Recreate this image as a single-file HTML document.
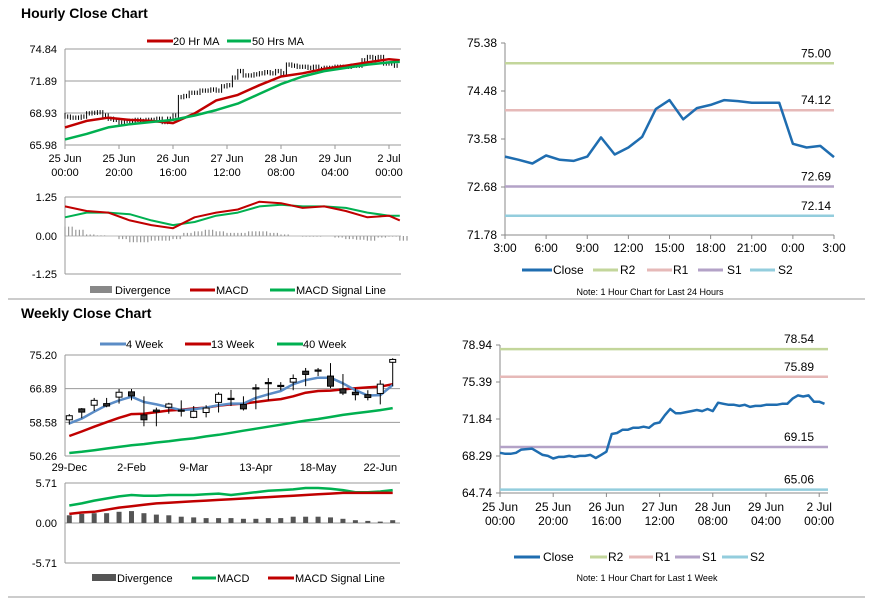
<!DOCTYPE html>
<html><head><meta charset="utf-8"><style>
body{margin:0;background:#fff;}
svg{display:block;font-family:"Liberation Sans",Arial,sans-serif;}
</style></head><body>
<svg id="s" width="873" height="601" viewBox="0 0 873 601" xmlns="http://www.w3.org/2000/svg">
<line x1="8" y1="299" x2="865" y2="299" stroke="#999"/>
<line x1="8" y1="597" x2="865" y2="597" stroke="#999"/>
<text x="21" y="18" font-size="14" font-weight="bold">Hourly Close Chart</text>
<text x="21" y="318" font-size="14" font-weight="bold">Weekly Close Chart</text>
<g id="g"></g>
</svg>
<script>
// ===== data =====
const hrIdx = [0,2,4,6,8,10,12,14,16,18,20,22,24,26,28,30,32,34,36,38,40,42,44,46,48,50,52,54,56,58,60,62,64,66,68,70,72,74,76,78,80,82,84,86,88,90,92,94,96,98,100,102,104,106,108,110,112,114,116,118,120,122];
const hrClose = [68.6,68.5,68.5,68.6,68.9,68.95,69.0,68.7,68.4,68.3,68.05,68.2,68.2,68.3,68.2,68.3,68.3,68.4,68.1,68.4,68.7,70.4,70.5,70.8,70.8,71.0,71.0,71.1,71.0,71.4,71.5,72.2,72.8,72.4,72.4,72.5,72.6,72.7,72.6,72.8,72.6,73.4,73.3,73.2,73.2,73.1,73.2,73.0,73.1,73.1,73.2,73.2,73.2,73.3,73.3,73.8,74.1,74.0,74.1,73.5,73.5,73.3];
const maIdx = [0,8,16,24,32,40,48,56,64,72,80,88,96,104,112,120,124];
const ma20 = [67.6,68.2,68.5,68.3,68.2,68.0,68.9,70.1,70.6,71.5,72.3,72.6,73.0,73.3,73.6,73.9,73.8];
const ma50 = [66.5,67.0,67.6,67.9,68.1,68.3,68.7,69.2,69.8,70.7,71.6,72.3,72.8,73.1,73.4,73.6,73.65];
const hMacd = [0.95,0.8,0.75,0.5,0.35,0.25,0.6,0.75,0.85,1.1,1.05,0.9,0.95,0.8,0.6,0.65,0.5];
const hSignal = [0.6,0.75,0.75,0.7,0.5,0.35,0.45,0.65,0.75,0.95,1.0,0.95,0.95,0.9,0.75,0.65,0.65];
const divIdx = [0,4,8,12,16,20,24,28,32,36,40,44,48,52,56,60,64,68,72,76,80,84,88,92,96,100,104,108,112,116,120,124];
const hDiv = [0.3,0.2,0.05,0.02,0,-0.1,-0.2,-0.2,-0.15,-0.15,-0.1,0.1,0.15,0.2,0.15,0.1,0.1,0.15,0.15,0.1,0.05,0,-0.02,-0.02,0,-0.05,-0.1,-0.12,-0.15,-0.05,-0.02,-0.15];
const hrTicks = [['25 Jun','00:00'],['25 Jun','20:00'],['26 Jun','16:00'],['27 Jun','12:00'],['28 Jun','08:00'],['29 Jun','04:00'],['2 Jul','00:00']];
const c1Ticks = ['74.84','71.89','68.93','65.98'];
const m1Ticks = ['1.25','0.00','-1.25'];

const wOpen  = [59.2,61.9,62.8,63.2,64.8,66.1,60.4,61.6,62.3,61.6,59.8,61.0,63.5,64.5,63.0,67.1,68.4,67.7,68.5,71.2,71.5,70.0,66.8,66.0,65.4,65.7,73.4];
const wClose = [60.2,61.1,64.0,62.6,66.0,65.1,59.2,61.2,63.1,61.5,61.3,62.1,65.5,64.4,61.9,66.9,68.3,67.6,69.4,70.4,71.2,67.5,65.8,65.4,64.7,68.0,74.1];
const wHigh  = [60.6,62.1,64.6,64.6,66.8,66.8,65.0,62.2,63.4,64.0,62.6,62.8,66.0,66.6,65.0,68.0,69.5,68.5,70.4,72.0,72.0,73.2,70.5,67.0,66.5,69.0,74.4];
const wLow   = [58.0,59.6,61.4,62.3,63.2,64.0,57.6,57.6,60.7,60.0,59.6,59.8,61.0,62.6,61.5,61.8,64.0,66.5,66.5,67.5,70.0,67.0,65.3,64.0,64.0,63.0,67.5];
const w4 = [58.3,59.5,61.2,62.8,64.0,64.9,63.6,63.0,62.3,61.6,61.8,62.2,62.8,63.2,63.2,64.6,65.5,66.3,68.0,69.0,69.6,69.6,68.2,66.5,65.2,65.3,67.8];
const w13 = [55.2,56.3,57.5,58.6,59.7,60.6,60.7,61.1,61.5,61.7,62.0,62.2,62.7,63.0,63.2,63.6,64.0,64.3,65.0,65.9,66.3,66.4,66.7,67.0,67.2,67.4,68.0];
const w40 = [51.0,51.3,51.7,52.1,52.5,52.9,53.2,53.6,53.9,54.3,54.6,55.1,55.5,56.0,56.5,57.0,57.5,58.0,58.5,59.0,59.4,59.9,60.4,60.8,61.2,61.6,62.1];
const wMacd = [2.5,2.8,3.2,3.5,3.8,4.0,3.9,3.9,4.0,4.0,4.0,4.1,4.2,4.0,4.2,4.4,4.6,4.7,4.8,5.0,5.0,4.9,4.7,4.4,4.4,4.5,4.7];
const wSignal = [1.3,1.5,1.6,1.9,2.2,2.4,2.6,2.8,2.9,3.0,3.1,3.2,3.3,3.4,3.5,3.6,3.7,3.8,3.9,4.0,4.1,4.2,4.3,4.3,4.3,4.3,4.3];
const wDiv = [1.1,1.3,1.4,1.4,1.6,1.7,1.4,1.2,1.1,0.9,0.8,0.7,0.7,0.7,0.6,0.6,0.7,0.7,0.9,0.9,0.9,0.8,0.6,0.4,0.3,0.2,0.4];
const wkLabels = ['29-Dec','2-Feb','9-Mar','13-Apr','18-May','22-Jun'];
const wkLabelIdx = [0,5,10,15,20,25];
const w1Ticks = ['75.20','66.89','58.58','50.26'];
const wmTicks = ['5.71','0.00','-5.71'];
const dayClose = [73.25,73.19,73.12,73.27,73.19,73.17,73.25,73.61,73.29,73.42,73.62,74.14,74.31,73.95,74.16,74.22,74.31,74.29,74.26,74.26,74.26,73.49,73.42,73.45,73.24];
const dayTicks = ['3:00','6:00','9:00','12:00','15:00','18:00','21:00','0:00','3:00'];
const dayYTicks = ['75.38','74.48','73.58','72.68','71.78'];
const dayLevels = [75.00,74.12,72.69,72.14];
const weekLevels = [78.54,75.89,69.15,65.06];
const weekYTicks = ['78.94','75.39','71.84','68.29','64.74'];
const levelNames = ['R2','R1','S1','S2'];
const levelColors = ['#c3d69b','#e6b9b8','#b3a2c7','#93cddd'];

const NS='http://www.w3.org/2000/svg';
const G=document.getElementById('g');
function mk(tag,attrs,parent){const e=document.createElementNS(NS,tag);for(const k in attrs)e.setAttribute(k,attrs[k]);(parent||G).appendChild(e);return e;}
function txt(x,y,s,size,anchor,parent){const t=mk('text',{x:x,y:y,'font-size':size||11,'text-anchor':anchor||'start',fill:'#000'},parent);t.textContent=s;return t;}
function lin(a,b){return v=>a[1]+(v-a[0])*(b[1]-a[1])/(b[0]-a[0]);}
function poly(xs,ys,color,w,parent){let d='';for(let i=0;i<xs.length;i++)d+=(i?'L':'M')+xs[i].toFixed(1)+' '+ys[i].toFixed(1);return mk('path',{d:d,fill:'none',stroke:color,'stroke-width':w,'stroke-linejoin':'round'},parent);}
const RED='#c00000',GRN='#00b050',BLU='#5b8cc6',CLOSE='#1f6db0';

// ===== Chart 1: hourly candles =====
{
const g=mk('g',{});


const x=lin([0,65],[20,119]), y=lin([65.98,145],[74.84,49]);
c1Ticks.forEach((t,i)=>{const yy=49+i*32;mk('line',{x1:65,y1:yy,x2:401,y2:yy,stroke:'#999'},g);const l=txt(57,yy+4,t,11,'end',g);});
mk('line',{x1:65,y1:49,x2:65,y2:145,stroke:'#999'},g);
hrTicks.forEach((t,i)=>{const xx=x(i*20);mk('line',{x1:xx,y1:145,x2:xx,y2:149,stroke:'#999'},g);const a=txt(xx,162,t[0],11,'middle',g);txt(xx,176,t[1],11,'middle',g);});
for(let i=0;i<hrClose.length;i++){const o=i?hrClose[i-1]:hrClose[0]+0.15,c=hrClose[i];const hi=Math.max(o,c)+0.2,lo=Math.min(o,c)-0.2;const xx=x(hrIdx[i]);
const b=mk('line',{x1:xx,y1:y(hi),x2:xx,y2:y(lo),stroke:'#000','stroke-width':1},g);


mk('line',{x1:xx+2.7,y1:y(c+0.2),x2:xx+2.7,y2:y(c-0.2),stroke:'#000','stroke-width':1},g);}
const p1=poly(maIdx.map(x),ma20.map(y),RED,2.5,g);


const p2=poly(maIdx.map(x),ma50.map(y),GRN,2.5,g);


mk('line',{x1:147,y1:41,x2:173,y2:41,stroke:RED,'stroke-width':3},g);txt(173,45,'20 Hr MA',11,'start',g);
mk('line',{x1:227,y1:41,x2:251,y2:41,stroke:GRN,'stroke-width':3},g);txt(252,45,'50 Hrs MA',11,'start',g);
}
// ===== Chart 2: hourly MACD =====
{
const g=mk('g',{});


const x=lin([0,65],[20,119]), y=lin([0,236],[1.25,197]);
m1Ticks.forEach((t,i)=>{const yy=[197,236,274][i];mk('line',{x1:65,y1:yy,x2:401,y2:yy,stroke:i==1?'#bbb':'#999'},g);txt(57,yy+4,t,11,'end',g);});
mk('line',{x1:65,y1:197,x2:65,y2:274,stroke:'#999'},g);
for(let i=0;i<hDiv.length;i++){const xx=x(divIdx[i]);for(let k=0;k<3;k++){const bx=xx+k*3.6;const b=mk('line',{x1:bx,y1:y(0),x2:bx,y2:y(hDiv[i]),stroke:'#999','stroke-width':1.2},g);

}}
const a=poly(maIdx.map(x),hSignal.map(y),GRN,2,g);


const b=poly(maIdx.map(x),hMacd.map(y),RED,2,g);


mk('rect',{x:90,y:286,width:22,height:7,fill:'#888'},g);txt(115,294,'Divergence',11,'start',g);
mk('line',{x1:190,y1:290,x2:215,y2:290,stroke:RED,'stroke-width':3},g);txt(216,294,'MACD',11,'start',g);
mk('line',{x1:270,y1:290,x2:295,y2:290,stroke:GRN,'stroke-width':3},g);txt(296,294,'MACD Signal Line',11,'start',g);
}
// ===== Chart 3: weekly candles =====
{
const g=mk('g',{});


const x=lin([0,69.3],[26,392.7]), y=lin([50.26,456],[75.20,355]);
w1Ticks.forEach((t,i)=>{const yy=355+i*33.67;mk('line',{x1:65,y1:yy,x2:400,y2:yy,stroke:'#999'},g);txt(57,yy+4,t,11,'end',g);});
mk('line',{x1:65,y1:355,x2:65,y2:456,stroke:'#999'},g);
wkLabels.forEach((t,i)=>{const l=txt(x(wkLabelIdx[i]),471,t,11,'middle',g);

});
const w3=poly(wOpen.map((_,i)=>x(i)),w40.map(y),GRN,2.5,g);


const w2=poly(wOpen.map((_,i)=>x(i)),w13.map(y),RED,2.5,g);


const w1=poly(wOpen.map((_,i)=>x(i)),w4.map(y),BLU,2.5,g);


for(let i=0;i<wOpen.length;i++){const xx=x(i);
mk('line',{x1:xx,y1:y(wHigh[i]),x2:xx,y2:y(wLow[i]),stroke:'#000','stroke-width':1},g);
const top=Math.max(wOpen[i],wClose[i]),bot=Math.min(wOpen[i],wClose[i]);const h=Math.max(1.2,y(bot)-y(top));
const r=mk('rect',{x:xx-3,y:y(top),width:6,height:h,fill:wClose[i]>=wOpen[i]?'#fff':'#333',stroke:'#000','stroke-width':1},g);

}
mk('line',{x1:100,y1:344,x2:126,y2:344,stroke:BLU,'stroke-width':3},g);txt(126,348,'4 Week',11,'start',g);
mk('line',{x1:185,y1:344,x2:211,y2:344,stroke:RED,'stroke-width':3},g);txt(211,348,'13 Week',11,'start',g);
mk('line',{x1:277,y1:344,x2:303,y2:344,stroke:GRN,'stroke-width':3},g);txt(303,348,'40 Week',11,'start',g);
}
// ===== Chart 4: weekly MACD =====
{
const g=mk('g',{});


const x=lin([0,69.3],[26,392.7]), y=lin([0,523],[5.71,483]);
wmTicks.forEach((t,i)=>{const yy=483+i*40;mk('line',{x1:65,y1:yy,x2:400,y2:yy,stroke:'#999'},g);txt(57,yy+4,t,11,'end',g);});
mk('line',{x1:65,y1:483,x2:65,y2:563,stroke:'#999'},g);
for(let i=0;i<wDiv.length;i++){const b=mk('rect',{x:x(i)-2.5,y:y(wDiv[i]),width:5,height:y(0)-y(wDiv[i]),fill:'#555'},g);

}
const a=poly(wDiv.map((_,i)=>x(i)),wMacd.map(y),GRN,2.5,g);


const b=poly(wDiv.map((_,i)=>x(i)),wSignal.map(y),RED,2.5,g);


mk('rect',{x:92,y:574,width:24,height:7,fill:'#555'},g);txt(117,582,'Divergence',11,'start',g);
mk('line',{x1:192,y1:578,x2:216,y2:578,stroke:GRN,'stroke-width':3},g);txt(217,582,'MACD',11,'start',g);
mk('line',{x1:268,y1:578,x2:294,y2:578,stroke:RED,'stroke-width':3},g);txt(295,582,'MACD Signal Line',11,'start',g);
}
// ===== Chart 5: 24h pivot chart =====
{
const g=mk('g',{});


const x=lin([0,505],[24,834]), y=lin([71.78,235],[75.38,43]);
dayYTicks.forEach((t,i)=>{const yy=43+i*48;mk('line',{x1:501,y1:yy,x2:505,y2:yy,stroke:'#888'},g);txt(497,yy+4,t,12,'end',g);});
mk('line',{x1:505,y1:43,x2:505,y2:235,stroke:'#888'},g);mk('line',{x1:505,y1:235,x2:834,y2:235,stroke:'#888'},g);
dayTicks.forEach((t,i)=>{const xx=x(i*3);mk('line',{x1:xx,y1:235,x2:xx,y2:239,stroke:'#888'},g);const l=txt(xx,252,t,12,'middle',g);

});
dayLevels.forEach((v,i)=>{const l=mk('line',{x1:505,y1:y(v),x2:834,y2:y(v),stroke:levelColors[i],'stroke-width':2.5},g);


txt(831,y(v)-6,v.toFixed(2),12,'end',g);});
const c=poly(dayClose.map((_,i)=>x(i)),dayClose.map(y),CLOSE,2.5,g);


const lx=[[522,552,553],[593,618,620],[647,672,673],[698,723,727],[750,775,778]];const cols=[CLOSE].concat(levelColors),nm=['Close'].concat(levelNames);
lx.forEach((p,i)=>{mk('line',{x1:p[0],y1:270,x2:p[1],y2:270,stroke:cols[i],'stroke-width':3},g);txt(p[2],274,nm[i],12,'start',g);});
const n=txt(650,295,'Note: 1 Hour Chart for Last 24 Hours',9,'middle',g);


}
// ===== Chart 6: weekly pivot chart =====
{
const g=mk('g',{});


const x=lin([0,500],[20,553.2]), y=lin([64.74,493],[78.94,345]);
weekYTicks.forEach((t,i)=>{const yy=345+i*37;mk('line',{x1:496,y1:yy,x2:500,y2:yy,stroke:'#888'},g);txt(492,yy+4,t,12,'end',g);});
mk('line',{x1:500,y1:345,x2:500,y2:493,stroke:'#888'},g);mk('line',{x1:500,y1:493,x2:828,y2:493,stroke:'#888'},g);
hrTicks.forEach((t,i)=>{const xx=x(i*20);mk('line',{x1:xx,y1:493,x2:xx,y2:497,stroke:'#888'},g);const l=txt(xx,511,t[0],12,'middle',g);


txt(xx,525,t[1],12,'middle',g);});
weekLevels.forEach((v,i)=>{const l=mk('line',{x1:500,y1:y(v),x2:828,y2:y(v),stroke:levelColors[i],'stroke-width':2.5},g);


txt(814,y(v)-6,v.toFixed(2),12,'end',g);});
const c=poly(hrIdx.map(x),hrClose.map(y),CLOSE,2.5,g);


const lx=[[514,540,543],[590,607,608],[629,653,655],[675,700,702],[722,748,750]];const cols=[CLOSE].concat(levelColors),nm=['Close'].concat(levelNames);
lx.forEach((p,i)=>{mk('line',{x1:p[0],y1:557,x2:p[1],y2:557,stroke:cols[i],'stroke-width':3},g);txt(p[2],561,nm[i],12,'start',g);});
const n=txt(647,581,'Note: 1 Hour Chart for Last 1 Week',9,'middle',g);


}
</script>
</body></html>
